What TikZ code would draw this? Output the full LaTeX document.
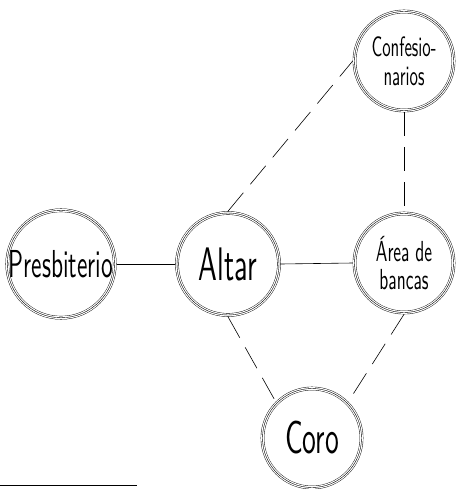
\documentclass[tikz,border=0pt]{standalone}
\usepackage{fontspec}
\newfontfamily\handfont{lmsans10-regular.otf}[FakeStretch=0.6]
\usetikzlibrary{positioning}

\begin{document}
\begin{tikzpicture}[x=1pt,y=-1pt,
  room/.style={circle,draw,line width=0.4pt,inner sep=0pt,outer sep=1.8pt,minimum size=99pt,align=center,
    preaction={draw,line width=3.6pt},preaction={draw=white,line width=2.8pt}},
  link/.style={line width=0.6pt},
  dashlink/.style={line width=0.6pt,dash pattern=on 24pt off 11pt}]
\useasboundingbox (0,0) rectangle (455,489);
% rooms
\node[room,minimum size=103pt,font=\handfont\fontsize{39}{39}\selectfont] (presb) at (61,264) {Presbiterio};
\node[room,minimum size=102pt,font=\handfont\fontsize{47}{47}\selectfont] (altar) at (228,264) {Altar};
\node[room,font=\handfont\fontsize{29}{28}\selectfont] (bancas) at (404,263) {Área de\\bancas};
\node[room,font=\handfont\fontsize{28}{29}\selectfont] (confes) at (404,61) {Confesio-\\narios};
\node[room,font=\handfont\fontsize{46}{46}\selectfont] (coro) at (312,438) {Coro};
% links
\draw[link] (presb.east) -- (altar.west);
\draw[link] (altar.east) -- (bancas.west);
\draw[dashlink] (altar.north) -- (confes.west);
\draw[dashlink] (confes.south) -- (bancas.north);
\draw[dashlink] (altar.south) -- (coro.north west);
\draw[dashlink] (bancas.south) -- (coro.north east);
% bottom line
\draw[line width=0.8pt] (0,485) -- (137,485);
\end{tikzpicture}
\end{document}
